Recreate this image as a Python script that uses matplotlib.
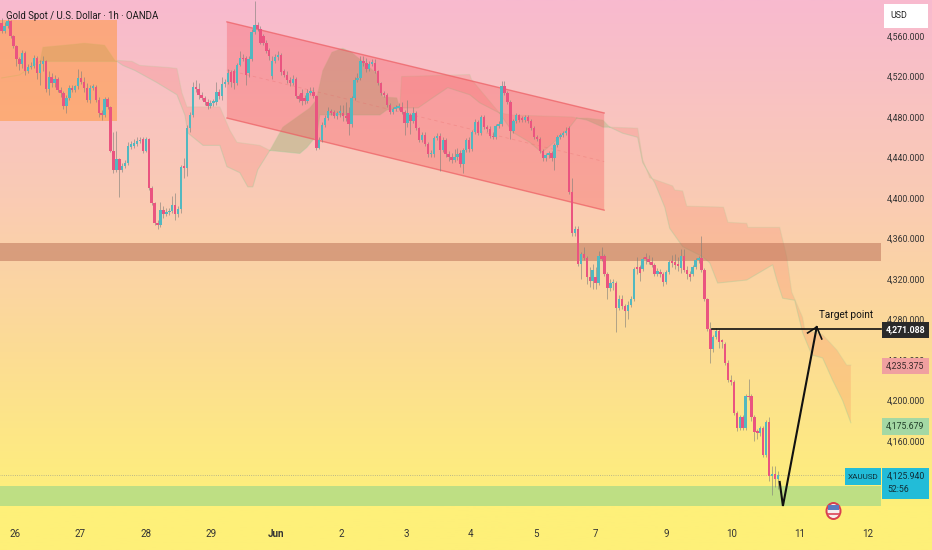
import numpy as np
import matplotlib
matplotlib.use("Agg")
import matplotlib.pyplot as plt
from matplotlib.colors import LinearSegmentedColormap
from matplotlib.patches import Rectangle, Ellipse, Polygon
from matplotlib.transforms import Affine2D

plt.rcParams['font.family'] = ['Roboto', 'DejaVu Sans']

opens = [4573,4565,4570,4575,4560,4550,4537,4532,4543,4525,
 4529,4530,4538,4523,4532,4535,4508,4520,4514,4518,
 4507,4504,4491,4499,4509,4507,4511,4519,4515,4509,
 4497,4509,4510,4497,4484,4482,4498,4490,4446,4428,
 4439,4428,4432,4435,4450,4451,4453,4456,4458,4446,
 4458,4410,4395,4375,4373,4388,4384,4386,4387,4393,
 4384,4389,4431,4430,4469,4482,4510,4508,4502,4499,
 4495,4491,4494,4495,4505,4501,4513,4515,4524,4525,
 4514,4531,4538,4538,4523,4537,4564,4571,4567,4560,
 4553,4546,4521,4535,4539,4541,4525,4522,4517,4514,
 4518,4501,4504,4499,4496,4504,4505,4501,4449,4457,
 4472,4479,4486,4485,4481,4484,4484,4481,4484,4473,
 4499,4517,4519,4535,4533,4527,4532,4533,4525,4514,
 4504,4502,4492,4485,4488,4489,4490,4485,4474,4482,
 4476,4484,4469,4457,4462,4453,4443,4443,4459,4461,
 4447,4457,4443,4441,4438,4441,4444,4434,4447,4457,
 4448,4465,4475,4464,4480,4470,4468,4461,4460,4471,
 4473,4511,4504,4495,4466,4476,4482,4479,4477,4480,
 4476,4469,4460,4458,4446,4440,4442,4444,4440,4452,
 4460,4462,4464,4469,4406,4365,4369,4335,4345,4341,
 4322,4318,4322,4316,4343,4343,4325,4311,4316,4316,
 4291,4300,4293,4288,4294,4300,4332,4332,4330,4341,
 4340,4337,4334,4325,4327,4325,4317,4327,4337,4337,
 4335,4331,4343,4329,4325,4325,4332,4339,4341,4329,
 4300,4271,4251,4263,4269,4259,4256,4237,4220,4218,
 4188,4173,4184,4173,4204,4204,4184,4169,4168,4173,
 4146,4179,4125,4127,4122]
closes = [4565,4570,4575,4560,4550,4537,4532,4543,4525,4529,
 4530,4538,4523,4532,4535,4508,4520,4514,4518,4507,
 4504,4491,4499,4509,4507,4511,4519,4515,4509,4497,
 4509,4510,4497,4484,4482,4498,4490,4446,4428,4439,
 4428,4432,4435,4451,4453,4454,4456,4457,4446,4458,
 4410,4395,4375,4373,4388,4384,4386,4387,4393,4384,
 4389,4431,4430,4469,4482,4510,4508,4502,4499,4495,
 4491,4494,4495,4505,4501,4513,4515,4523,4515,4514,
 4531,4538,4537,4522,4537,4564,4571,4567,4553,4553,
 4545,4540,4535,4539,4541,4524,4522,4517,4514,4518,
 4501,4498,4496,4496,4504,4506,4501,4449,4457,4472,
 4479,4486,4484,4481,4484,4485,4481,4479,4473,4499,
 4517,4519,4535,4533,4527,4532,4534,4525,4514,4504,
 4502,4492,4485,4488,4489,4490,4485,4474,4484,4476,
 4484,4469,4457,4462,4453,4443,4444,4459,4461,4447,
 4457,4443,4441,4438,4441,4443,4434,4447,4457,4448,
 4465,4475,4464,4480,4470,4468,4461,4460,4471,4473,
 4511,4504,4495,4466,4476,4482,4477,4477,4480,4476,
 4469,4460,4458,4446,4440,4442,4444,4440,4452,4460,
 4462,4464,4466,4406,4365,4369,4335,4345,4341,4322,
 4318,4329,4316,4343,4340,4325,4311,4316,4317,4291,
 4300,4293,4288,4294,4300,4330,4330,4326,4340,4340,
 4337,4334,4325,4328,4325,4317,4327,4337,4336,4334,
 4333,4343,4329,4325,4322,4332,4339,4340,4329,4300,
 4271,4251,4263,4269,4258,4258,4237,4220,4218,4188,
 4173,4184,4173,4204,4203,4184,4169,4168,4173,4146,
 4179,4125,4127,4122,4126]
highs = [4578,4574,4578,4576,4561,4551,4539,4546,4545,4532,
 4534,4541,4540,4536,4540,4536,4525,4523,4522,4520,
 4510,4506,4502,4512,4512,4512,4527,4525,4520,4514,
 4512,4513,4512,4500,4487,4500,4500,4491,4465,4466,
 4440,4435,4438,4455,4456,4458,4460,4460,4460,4460,
 4459,4412,4396,4378,4396,4392,4390,4390,4402,4405,
 4392,4433,4440,4472,4485,4515,4517,4514,4505,4501,
 4498,4497,4498,4515,4508,4520,4518,4527,4526,4527,
 4533,4545,4542,4540,4540,4567,4595,4574,4570,4562,
 4556,4548,4540,4542,4545,4543,4527,4525,4520,4522,
 4520,4503,4508,4502,4508,4510,4510,4502,4460,4475,
 4482,4490,4488,4487,4486,4492,4492,4495,4490,4501,
 4520,4523,4540,4540,4538,4535,4537,4537,4526,4515,
 4506,4504,4494,4490,4492,4494,4495,4487,4497,4484,
 4490,4486,4470,4465,4465,4455,4447,4461,4464,4464,
 4460,4459,4446,4444,4448,4449,4447,4449,4459,4460,
 4467,4478,4477,4482,4482,4472,4471,4465,4473,4476,
 4516,4516,4506,4497,4478,4484,4483,4481,4482,4482,
 4478,4471,4462,4460,4448,4444,4446,4446,4454,4462,
 4464,4466,4470,4471,4420,4372,4372,4347,4352,4343,
 4332,4335,4332,4348,4352,4345,4327,4320,4320,4318,
 4304,4304,4295,4298,4303,4332,4342,4334,4342,4346,
 4344,4342,4336,4331,4330,4327,4329,4339,4344,4345,
 4342,4350,4350,4333,4328,4334,4341,4343,4362,4331,
 4301,4278,4265,4272,4271,4261,4258,4240,4225,4220,
 4190,4186,4186,4206,4221,4206,4186,4172,4175,4175,
 4181,4184,4135,4135,4130]
lows = [4563,4563,4568,4558,4548,4530,4526,4528,4522,4523,
 4527,4528,4518,4512,4525,4505,4502,4510,4510,4505,
 4500,4488,4484,4497,4505,4505,4508,4513,4505,4495,
 4494,4507,4495,4480,4477,4480,4488,4445,4425,4426,
 4401,4426,4430,4433,4448,4449,4451,4454,4444,4445,
 4408,4393,4373,4369,4371,4380,4382,4383,4385,4378,
 4381,4385,4420,4422,4465,4480,4505,4498,4497,4492,
 4488,4489,4491,4492,4498,4497,4510,4513,4510,4508,
 4512,4530,4535,4512,4520,4535,4562,4565,4552,4551,
 4543,4536,4518,4533,4536,4522,4520,4514,4511,4512,
 4499,4495,4492,4493,4494,4502,4499,4447,4448,4455,
 4470,4477,4482,4479,4478,4480,4476,4476,4462,4470,
 4497,4515,4517,4530,4524,4525,4530,4523,4512,4502,
 4500,4490,4483,4483,4486,4487,4483,4462,4470,4463,
 4474,4467,4455,4455,4451,4441,4441,4441,4457,4427,
 4445,4441,4437,4435,4436,4438,4431,4425,4445,4445,
 4446,4463,4462,4462,4468,4465,4459,4458,4458,4469,
 4471,4502,4493,4458,4464,4474,4475,4475,4475,4474,
 4467,4458,4456,4444,4437,4437,4440,4437,4428,4450,
 4458,4460,4462,4404,4362,4362,4333,4320,4339,4315,
 4312,4310,4310,4314,4338,4323,4300,4308,4309,4268,
 4289,4290,4273,4280,4292,4298,4325,4318,4328,4335,
 4335,4332,4323,4323,4322,4313,4315,4325,4332,4330,
 4328,4326,4327,4320,4318,4323,4330,4336,4327,4298,
 4269,4237,4248,4261,4252,4252,4235,4218,4215,4186,
 4170,4171,4171,4171,4200,4180,4160,4162,4165,4144,
 4144,4120,4107,4115,4113]

# Ichimoku cloud pieces: (bar position, price)
g1_ux = [13,14,25,28,35,38.5,39]
g1_uy = [4535,4549,4552,4553,4551,4536,4535]
g1_lx = [13,39]
g1_ly = [4535,4535]
g0_x = [0,6,13]
g0_y = [4518.6,4521.5,4535]

r1_ux = [39.2,44.3,47,56.5,59.6,61.3,63,74.2,77.6,80,87.8,91.2]
r1_uy = [4536,4535,4531,4529,4528,4504,4490,4490,4467,4455,4452,4447]
r1_lx = [39.2,41.2,45.3,52.8,59.6,62.3,63.4,68.5,74.2,76.6,81,83.7,85.4,87.1,91.2]
r1_ly = [4535,4531,4526,4514,4502,4482,4464,4452,4452,4431,4425,4411,4411,4428,4447]

g2_ux = [91.2,95.6,101.4,104.8,107,109.2,112.3,116,119,127.6,129.6,134.4,135.4]
g2_uy = [4447,4470,4482,4489,4497,4526,4544,4548,4544,4523,4500,4499,4489]
g2_lx = [91.2,101.4,103.8,107.2,108.2,128.6,131,135.4]
g2_ly = [4447,4444,4450,4462,4482,4482,4487,4489]

r2_ux = [135.4,136,159.2,159.8,169.3]
r2_uy = [4489,4520,4522,4517,4484]
r2_lx = [135.4,141.6,146.6,151.7,159.2,162.6,169.3]
r2_ly = [4489,4489,4499,4509,4502,4494,4484]

r3_ux = [169.3,173.8,194.2,195.6]
r3_uy = [4484,4482,4480,4479]
r3_lx = [169.3,173.8,179.6,183.7,187.4,193.2,195.6]
r3_ly = [4484,4465,4455,4445,4454,4470,4479]

g3_ux = [195.6,199,204.5,206.8]
g3_uy = [4479,4479,4477,4470]
g3_lx = [195.6,199,204.5,206.8]
g3_ly = [4479,4477,4470,4470]

r4_ux = [206.8,216.3,218,220.4,228.2,228.9,231.6,233,245.5,247,253.4,253.8,264.6,267,268.7,272.4,273.1,279.2,284,287.4,288.8]
r4_uy = [4470,4469,4438,4420,4412,4408,4407,4392,4391,4376,4375,4371,4371,4342,4307,4282,4270,4265,4250,4235,4235]
r4_lx = [206.8,211.2,216.3,218,222.1,225.5,227.2,231.6,238.4,240.8,243.5,253.4,262.2,263.6,265.6,269.7,272.4,275.5,279.2,282.6,286,288.8]
r4_ly = [4470,4464,4460,4435,4415,4391,4370,4352,4342,4336,4316,4319,4334,4319,4301,4299,4267,4245,4242,4220,4200,4178]

price_ticks = [4560,4520,4480,4440,4400,4360,4320,4280,4240,4200,4160]
date_pos = [4.5,26.6,49,71.2,93.3,115.4,137.5,159.6,181.7,202.1,226,248.4,271.5,294.6]
date_labels = ['26','27','28','29','Jun','2','3','4','5','7','9','10','11','12']

last_price = 4125.94
target_price = 4271.088
path_x = [264.6,265.7,277.2]
path_y = [4119.5,4095.8,4272.6]
head_x = [274.1,277.2,278.9]
head_y = [4266.7,4272.6,4260.8]

box_x = [-1,39.2]
box_y = [4476,4576]
chan_x = [76.6,204.9]
chan_top = [4574,4484]
chan_bot = [4479,4388]
chan_mid = [4526.5,4436]
resist = [4338,4356]
support = [4096,4115.5]
zone_end = 299

W, H = 932, 550
fig = plt.figure(figsize=(W/100, H/100), dpi=100)
ax = fig.add_axes([0, 0, 1, 1])
px = Affine2D().scale(1, -1).translate(0, H)

cmap = LinearSegmentedColormap.from_list('bg', [
    (0.0, (248/255, 186/255, 207/255)),
    (0.36, (250/255, 203/255, 180/255)),
    (0.64, (252/255, 220/255, 148/255)),
    (0.92, (254/255, 240/255, 122/255)),
    (1.0, (254/255, 240/255, 120/255))])
ax.imshow(np.linspace(0, 1, 256)[:, None], cmap=cmap, aspect='auto',
          extent=(-0.58, 316.4, 4052.3, 4595.6), zorder=0, vmin=0, vmax=1)

RED = (244/255, 67/255, 54/255)
GREEN = (120/255, 170/255, 90/255)
def cloud(ux, uy, lx, ly, color, a):
    xs = list(ux) + list(lx)[::-1]
    ys = list(uy) + list(ly)[::-1]
    ax.fill(xs, ys, facecolor=color, alpha=a, edgecolor='none', zorder=2)
    ax.plot(ux, uy, color=(0.7, 0.8, 0.6), alpha=0.25, lw=0.8, zorder=2)
    ax.plot(lx, ly, color=(0.6, 0.8, 0.6), alpha=0.35, lw=0.8, zorder=2)

ax.plot(g0_x, g0_y, color=(0.7, 0.8, 0.6), alpha=0.5, lw=0.8, zorder=2)
cloud(g1_ux, g1_uy, g1_lx, g1_ly, GREEN, 0.3)
cloud(r1_ux, r1_uy, r1_lx, r1_ly, RED, 0.13)
cloud(g2_ux, g2_uy, g2_lx, g2_ly, GREEN, 0.3)
cloud(r2_ux, r2_uy, r2_lx, r2_ly, RED, 0.13)
cloud(r3_ux, r3_uy, r3_lx, r3_ly, RED, 0.13)
cloud(g3_ux, g3_uy, g3_lx, g3_ly, GREEN, 0.25)
cloud(r4_ux, r4_uy, r4_lx, r4_ly, RED, 0.14)

ax.add_patch(Rectangle((box_x[0], box_y[0]), box_x[1]-box_x[0], box_y[1]-box_y[0],
                       facecolor=(1, 0.58, 0.2), alpha=0.5, edgecolor='none', zorder=3))
chan = Polygon([(chan_x[0], chan_top[0]), (chan_x[1], chan_top[1]),
                (chan_x[1], chan_bot[1]), (chan_x[0], chan_bot[0])],
               facecolor=(0.97, 0.24, 0.27), alpha=0.27, edgecolor='none', zorder=3)
ax.add_patch(chan)
ax.plot(chan_x, chan_top, color=(0.93, 0.36, 0.38), lw=1, alpha=0.7, zorder=3)
ax.plot(chan_x, chan_bot, color=(0.93, 0.36, 0.38), lw=1, alpha=0.7, zorder=3)
ax.plot(chan_x, chan_mid, color=(0.9, 0.4, 0.4), lw=0.6, ls=(0, (4, 4)), alpha=0.3, zorder=3)
ax.add_patch(Rectangle((-1, resist[0]), zone_end+1, resist[1]-resist[0],
                       facecolor=(0.72, 0.42, 0.32), alpha=0.5, edgecolor='none', zorder=3))
ax.add_patch(Rectangle((-1, support[0]), zone_end+1, support[1]-support[0],
                       facecolor=(0.5, 0.82, 0.55), alpha=0.5, edgecolor='none', zorder=3))

idx = np.arange(len(opens))
o, c, hi, lo = map(np.array, (opens, closes, highs, lows))
up = c >= o
ax.vlines(idx, lo, hi, color=(0.5, 0.5, 0.48), lw=0.6, alpha=0.7, zorder=4)
ax.bar(idx[up], np.maximum(c[up]-o[up], 1.5), bottom=o[up], width=0.82,
       color='#52b8c0', edgecolor='none', zorder=5)
ax.bar(idx[~up], np.maximum(o[~up]-c[~up], 1.5), bottom=c[~up], width=0.82,
       color='#ea5480', edgecolor='none', zorder=5)

ax.plot([-1, 287], [last_price, last_price], color='#a8a888', lw=0.6, ls=':', zorder=4)
ax.plot([241.5, zone_end], [target_price, target_price], color='#111111', lw=1.2, zorder=6)
ax.plot(path_x, path_y, color='#111111', lw=1.5, zorder=6, solid_joinstyle='miter')
ax.plot(head_x, head_y, color='#111111', lw=1.2, zorder=6)
ax.text(277.9, 4284, 'Target point', fontsize=7.2, color='#111111', va='center', ha='left', zorder=6)

ax.text(6, 16, 'Gold Spot / U.S. Dollar \u00b7 1h \u00b7 OANDA', transform=px, fontsize=6.9,
        color='#1a1a1a', va='center', ha='left', zorder=6)

def chip(x0, y0, x1, y1, fc):
    ax.add_patch(Rectangle((x0, y0), x1-x0, y1-y0, transform=px, facecolor=fc,
                           edgecolor='none', zorder=7))

LBL = 6.3
chip(882, 322, 929, 338, '#2a2a2a')
ax.text(905.5, 330, '4,271.088', transform=px, color='white', fontsize=LBL, fontweight='bold',
        ha='center', va='center', zorder=8)
chip(882, 358, 929, 374, '#f0a0a0')
ax.text(905.5, 366, '4,235.375', transform=px, color='#3a2a2a', fontsize=LBL, ha='center', va='center', zorder=8)
chip(882, 418, 929, 435, '#a4d8a4')
ax.text(905.5, 426.5, '4,175.679', transform=px, color='#22402a', fontsize=LBL, ha='center', va='center', zorder=8)
chip(845, 468, 881, 485, '#22bcd8')
ax.text(863, 477, 'XAUUSD', transform=px, color='#10303a', fontsize=5.9, ha='center', va='center', zorder=8)
chip(882, 468, 929, 499, '#22bcd8')
ax.text(887, 476.5, '4,125.940', transform=px, color='#10303a', fontsize=LBL, ha='left', va='center', zorder=8)
ax.text(887, 490, '52:56', transform=px, color='#10303a', fontsize=LBL, ha='left', va='center', zorder=8)
chip(884, 4, 928, 28, 'white')
ax.text(890, 16, 'USD', transform=px, color='#222222', fontsize=6.4, ha='left', va='center', zorder=8)

ax.add_patch(Ellipse((833.5, 511), 16, 18, transform=px, facecolor='#d84050', edgecolor='none', zorder=7))
ax.add_patch(Ellipse((833.5, 511), 12, 14, transform=px, facecolor='#f6eeee', edgecolor='none', zorder=7))
ax.add_patch(Rectangle((828, 505), 11, 5, transform=px, facecolor='#5a7ac0', edgecolor='none', zorder=8))
ax.add_patch(Rectangle((828, 513), 11, 1.6, transform=px, facecolor='#e06070', edgecolor='none', zorder=8))

ax.set_xlim(-0.58, 316.4)
ax.set_ylim(4052.3, 4595.6)
ax.yaxis.tick_right()
ax.set_yticks(price_ticks)
ax.set_yticklabels([f'{v:,.3f}' for v in price_ticks])
ax.set_xticks(date_pos)
ax.set_xticklabels(date_labels)
ax.tick_params(axis='y', length=0, pad=-32.4, labelsize=LBL, labelcolor='#333333')
ax.tick_params(axis='x', length=0, pad=-15, labelsize=7, labelcolor='#333333')
for lab in ax.get_xticklabels():
    if lab.get_text() == 'Jun':
        lab.set_fontweight('bold')
for s in ax.spines.values():
    s.set_visible(False)

fig.savefig('out.png', dpi=100)
